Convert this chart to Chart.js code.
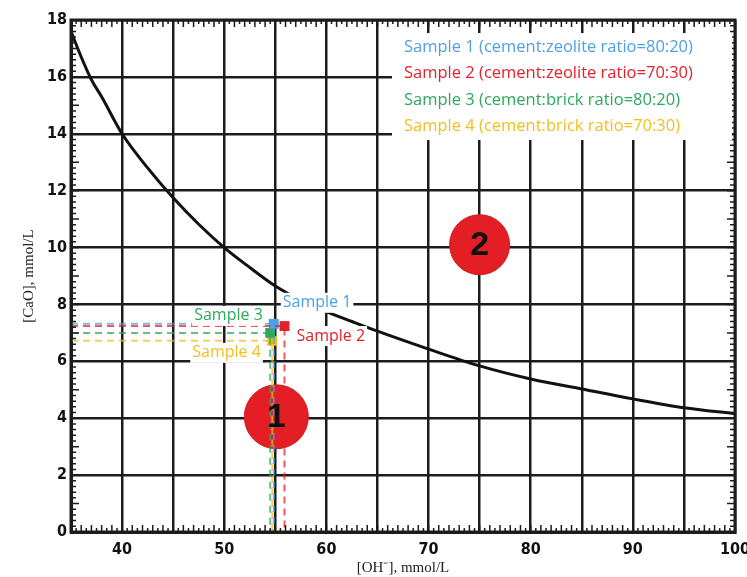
<!DOCTYPE html>
<html lang="en">
<head>
    <meta charset="UTF-8">
    <title>CaO vs OH- equilibrium</title>
    <script src="https://cdn.jsdelivr.net/npm/chart.js"></script>
    <style>
        body {
            margin: 0;
            padding: 0;
            background: #fff;
        }

        .chart-container {
            width: 747px;
            height: 577px;
        }
    </style>
</head>
<body>

    <div class="chart-container">
        <canvas id="limeChart"></canvas>
    </div>

    <script>
        // solubility curve
        const curveX = [35, 36, 37, 38, 40, 42.5, 45, 47.5, 50, 52.5, 55, 57.5, 60, 62.5, 65, 70, 75, 80, 85, 90, 95, 100];
        const curveY = [17.6, 16.7, 15.9, 15.3, 14.0, 12.8, 11.75, 10.82, 10.0, 9.3, 8.65, 8.15, 7.75, 7.4, 7.06, 6.43, 5.84, 5.38, 5.03, 4.68, 4.37, 4.16];

        // samples
        const sampleNames = ['Sample 1', 'Sample 2', 'Sample 3', 'Sample 4'];
        const sampleLegend = [
            'Sample 1 (cement:zeolite ratio=80:20)',
            'Sample 2 (cement:zeolite ratio=70:30)',
            'Sample 3 (cement:brick ratio=80:20)',
            'Sample 4 (cement:brick ratio=70:30)'
        ];
        const sampleX = [54.85, 55.9, 54.5, 54.7];
        const sampleY = [7.32, 7.24, 7.0, 6.72];
        const sampleColors = ['#4d9fe6', '#e5202a', '#2ea85a', '#f0bf1e'];

        // zone markers
        const zoneLabels = ['1', '2'];
        const zoneX = [55.1, 75];
        const zoneY = [4.05, 10.1];

        const xTickLabels = [40, 50, 60, 70, 80, 90, 100];

        const gridColor = '#1c1c1c';

        const datasets = [];

        // dashed guide lines (drawn on top, so first)
        sampleNames.forEach((name, i) => {
            datasets.push({
                label: name + ' guide',
                data: [{ x: 35, y: sampleY[i] }, { x: sampleX[i], y: sampleY[i] }, { x: sampleX[i], y: 0 }],
                showLine: true,
                borderColor: sampleColors[i] + 'bb',
                borderWidth: 2,
                borderDash: [7, 5],
                pointRadius: 0,
                fill: false
            });
        });

        // sample markers
        sampleNames.forEach((name, i) => {
            datasets.push({
                label: name,
                data: [{ x: sampleX[i], y: sampleY[i] }],
                pointStyle: 'rect',
                pointRadius: 7,
                backgroundColor: sampleColors[i],
                borderColor: sampleColors[i],
                borderWidth: 0
            });
        });

        datasets.push({
            label: 'curve',
            data: curveX.map((x, i) => ({ x: x, y: curveY[i] })),
            showLine: true,
            borderColor: '#111',
            borderWidth: 3,
            pointRadius: 0,
            cubicInterpolationMode: 'monotone'
        });

        datasets.push({
            label: 'zones',
            data: zoneX.map((x, i) => ({ x: x, y: zoneY[i] })),
            pointRadius: [32, 30],
            backgroundColor: '#e31e24',
            borderColor: '#d01a1f',
            borderWidth: 1
        });

        // ruler ticks, frame, texts
        const extras = {
            id: 'extras',
            afterDatasetsDraw(chart) {
                const ctx = chart.ctx;
                const xs = chart.scales.x;
                const ys = chart.scales.y;
                const a = chart.chartArea;

                ctx.save();
                // ruler ticks inside frame
                ctx.strokeStyle = gridColor;
                ctx.lineWidth = 1.5;
                ctx.beginPath();
                for (let v = 35; v <= 100.001; v += 0.5) {
                    const px = xs.getPixelForValue(v);
                    const len = Math.abs(v - Math.round(v)) < 0.01 ? 7 : 4;
                    ctx.moveTo(px, a.top); ctx.lineTo(px, a.top + len);
                    ctx.moveTo(px, a.bottom); ctx.lineTo(px, a.bottom - len);
                }
                for (let v = 0; v <= 18.001; v += 0.2) {
                    const py = ys.getPixelForValue(v);
                    const len = Math.abs(v - Math.round(v)) < 0.01 ? 8 : 5;
                    ctx.moveTo(a.left, py); ctx.lineTo(a.left + len, py);
                    ctx.moveTo(a.right, py); ctx.lineTo(a.right - len, py);
                }
                ctx.stroke();

                // frame
                ctx.lineWidth = 3;
                ctx.strokeRect(a.left, a.top, a.right - a.left, a.bottom - a.top);

                // zone numbers
                ctx.fillStyle = '#111';
                ctx.font = 'bold 34px "Liberation Sans", Arial, sans-serif';
                ctx.textAlign = 'center';
                ctx.textBaseline = 'middle';
                zoneLabels.forEach((t, i) => {
                    ctx.fillText(t, xs.getPixelForValue(zoneX[i]), ys.getPixelForValue(zoneY[i]) + 1);
                });

                // sample labels with white boxes
                const offsets = [[9, -21], [12, 10], [-76, -17], [-80, 12]];
                ctx.font = '16px "Open Sans", sans-serif';
                ctx.textAlign = 'left';
                sampleNames.forEach((name, i) => {
                    const px = xs.getPixelForValue(sampleX[i]) + offsets[i][0];
                    const py = ys.getPixelForValue(sampleY[i]) + offsets[i][1];
                    const w = ctx.measureText(name).width;
                    ctx.fillStyle = '#fff';
                    ctx.fillRect(px - 2, py - 10, w + 4, 20);
                    ctx.fillStyle = sampleColors[i];
                    ctx.fillText(name, px, py);
                });

                // legend box
                ctx.fillStyle = '#fff';
                ctx.fillRect(392, 33, 340, 107);
                ctx.font = '16.5px "Open Sans", sans-serif';
                sampleLegend.forEach((t, i) => {
                    ctx.fillStyle = sampleColors[i];
                    ctx.fillText(t, 404, 47 + i * 26.5);
                });
                ctx.restore();
            }
        };

        new Chart(document.getElementById('limeChart').getContext('2d'), {
            type: 'scatter',
            data: { datasets: datasets },
            options: {
                responsive: true,
                maintainAspectRatio: false,
                animation: false,
                layout: { autoPadding: false, padding: { top: 20, right: 12, left: 0, bottom: 0 } },
                plugins: {
                    legend: { display: false },
                    tooltip: { enabled: false }
                },
                scales: {
                    x: {
                        type: 'linear',
                        min: 35,
                        max: 100,
                        afterFit: (scale) => {
                            scale.height = 45;
                            scale.paddingLeft = 0;
                            scale.paddingRight = 0;
                        },
                        ticks: {
                            stepSize: 5,
                            padding: 8,
                            color: '#111',
                            font: { family: '"DejaVu Sans Condensed", "DejaVu Sans", sans-serif', size: 16, weight: 'bold' },
                            callback: (v) => xTickLabels.includes(v) ? v : ''
                        },
                        grid: { color: gridColor, lineWidth: 2.5, drawTicks: false },
                        border: { color: gridColor, width: 3 },
                        title: {
                            display: true,
                            text: '[OH\u207B], mmol/L',
                            color: '#222',
                            padding: { top: 0, bottom: 0 },
                            font: { family: '"Liberation Serif", serif', size: 15 }
                        }
                    },
                    y: {
                        min: 0,
                        max: 18,
                        afterFit: (scale) => {
                            scale.width = 71;
                            scale.paddingTop = 0;
                            scale.paddingBottom = 0;
                        },
                        ticks: {
                            stepSize: 2,
                            padding: 4,
                            color: '#111',
                            font: { family: '"DejaVu Sans Condensed", "DejaVu Sans", sans-serif', size: 16, weight: 'bold' }
                        },
                        grid: { color: gridColor, lineWidth: 2.5, drawTicks: false },
                        border: { color: gridColor, width: 3 },
                        title: {
                            display: true,
                            text: '[CaO], mmol/L',
                            color: '#222',
                            padding: { top: 20, bottom: 0 },
                            font: { family: '"Liberation Serif", serif', size: 15 }
                        }
                    }
                }
            },
            plugins: [extras]
        });
    </script>

</body>
</html>
